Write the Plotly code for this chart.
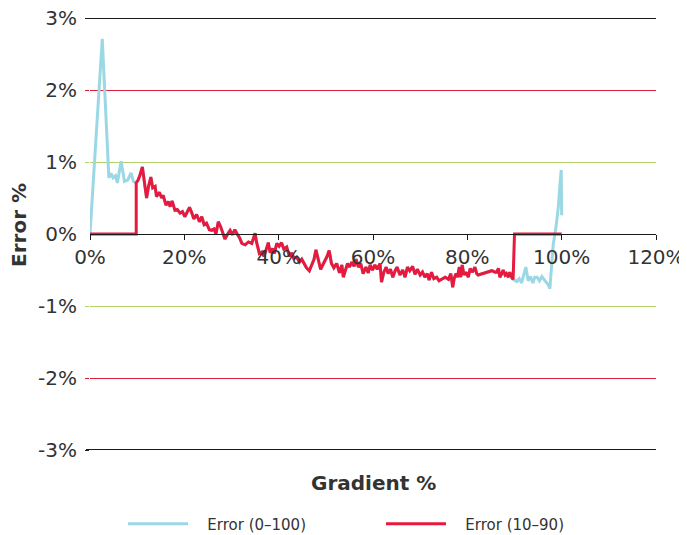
import plotly.graph_objects as go

# ---- data (gradient %, error %) ----
# shared middle section (10%..90%), drawn by both series
mid_gradient = [9.8, 10.2, 10.6, 11.1, 11.7, 12.0, 12.4, 12.9, 13.3, 13.8, 14.1, 14.7, 15.2, 15.5, 16.1, 16.6,
                17.0, 17.4, 18.0, 18.5, 19.1, 19.6, 20.1, 20.6, 21.1, 21.6, 22.0, 22.6, 23.2, 23.7, 24.2, 24.7,
                25.3, 25.8, 26.3, 26.7, 27.2, 27.7, 28.3, 28.6, 29.1, 29.7, 30.2, 30.7, 31.2, 31.7, 32.2, 32.9,
                33.6, 34.3, 35.0, 35.3, 35.9, 36.4, 36.9, 37.5, 37.8, 38.2, 38.7, 39.1, 39.6, 40.1, 40.6, 41.1,
                41.7, 42.3, 42.8, 43.2, 43.8, 44.4, 44.9, 45.4, 45.9, 46.5, 47.0, 47.5, 47.9, 48.4, 48.9, 49.5,
                50.2, 50.7, 51.2, 51.7, 52.3, 52.9, 53.4, 53.7, 54.1, 54.6, 55.0, 55.5, 56.0, 56.4, 56.9, 57.4,
                57.9, 58.5, 59.0, 59.4, 59.9, 60.4, 60.9, 61.5, 61.8, 62.3, 62.8, 63.2, 63.7, 64.2, 64.7, 65.1,
                65.7, 66.3, 66.8, 67.3, 67.8, 68.4, 68.9, 69.4, 70.0, 70.5, 71.0, 71.5, 71.9, 72.4, 72.9, 73.5,
                74.0, 74.8, 75.3, 76.0, 76.5, 76.9, 77.2, 77.6, 77.9, 78.3, 78.6, 78.9, 79.3, 79.7, 80.2, 80.6,
                81.1, 81.6, 82.0, 82.3, 83.4, 84.4, 85.2, 85.9, 86.2, 86.6, 86.9, 87.3, 87.6, 88.0, 88.3, 88.7,
                89.0, 89.4, 89.7]
mid_error = [0.71, 0.75, 0.82, 0.93, 0.64, 0.50, 0.66, 0.79, 0.64, 0.66, 0.52, 0.58, 0.50, 0.54, 0.40, 0.45,
             0.38, 0.46, 0.33, 0.34, 0.29, 0.31, 0.24, 0.31, 0.37, 0.29, 0.21, 0.27, 0.17, 0.24, 0.13, 0.15,
             0.06, 0.05, 0.07, 0.00, 0.17, 0.10, -0.03, -0.07, -0.01, 0.05, -0.01, 0.06, 0.00, -0.05, -0.13, -0.15,
             -0.11, -0.13, 0.01, -0.11, -0.27, -0.25, -0.31, -0.18, -0.12, -0.26, -0.20, -0.27, -0.13, -0.17, -0.12, -0.21,
             -0.18, -0.31, -0.26, -0.34, -0.32, -0.39, -0.35, -0.41, -0.47, -0.51, -0.43, -0.35, -0.22, -0.36, -0.49, -0.41,
             -0.32, -0.23, -0.41, -0.47, -0.41, -0.54, -0.43, -0.60, -0.50, -0.41, -0.46, -0.39, -0.45, -0.35, -0.46, -0.41,
             -0.55, -0.46, -0.54, -0.43, -0.50, -0.43, -0.49, -0.41, -0.67, -0.53, -0.46, -0.55, -0.49, -0.60, -0.51, -0.46,
             -0.57, -0.50, -0.60, -0.46, -0.51, -0.45, -0.56, -0.49, -0.57, -0.53, -0.60, -0.55, -0.64, -0.53, -0.62, -0.60,
             -0.65, -0.62, -0.60, -0.63, -0.55, -0.74, -0.62, -0.55, -0.60, -0.46, -0.60, -0.43, -0.57, -0.53, -0.60, -0.48,
             -0.53, -0.46, -0.55, -0.57, -0.55, -0.53, -0.51, -0.53, -0.53, -0.48, -0.60, -0.55, -0.50, -0.57, -0.55, -0.60,
             -0.53, -0.60, -0.63]

# Error (0-100): visible head and tail
head_gradient = [0.0, 2.6, 4.0, 4.45, 4.9, 5.4, 5.8, 6.6, 7.3, 8.0, 8.7, 9.2]
head_error = [0.0, 2.71, 0.78, 0.84, 0.78, 0.81, 0.71, 1.01, 0.73, 0.75, 0.85, 0.73]
tail_gradient = [90.5, 91.0, 91.5, 92.0, 92.4, 92.9, 93.4, 93.9, 94.3, 94.8, 95.3, 95.8, 96.2, 96.7, 97.2,
                 97.5, 97.9, 98.2, 98.8, 99.3, 99.6, 99.9, 100.0]
tail_error = [-0.66, -0.62, -0.68, -0.57, -0.46, -0.65, -0.59, -0.68, -0.60, -0.60, -0.65, -0.59, -0.62, -0.66, -0.71,
              -0.76, -0.46, -0.15, 0.10, 0.38, 0.66, 0.89, 0.26]

# Error (10-90): zero outside its range
pre_gradient = [0.0, 9.8]
pre_error = [0.0, 0.0]
post_gradient = [90.0, 100.0]
post_error = [0.0, 0.0]

x_ticks = [0, 20, 40, 60, 80, 100, 120]
x_tick_text = ["0%", "20%", "40%", "60%", "80%", "100%", "120%"]
y_ticks = [-3, -2, -1, 0, 1, 2, 3]
y_tick_text = ["-3%", "-2%", "-1%", "0%", "1%", "2%", "3%"]
grid_black = [-3, 3]
grid_red = [-2, 2]
grid_green = [-1, 1]

series_names = ["Error (0\u2013100)", "Error (10\u201390)"]
series_colors = ["#9bd8e5", "#e8193f"]
BLACK = "#1a1a1a"
RED_GRID = "#dc1e3c"
GREEN_GRID = "#b2d36b"

FONT = "Verdana, DejaVu Sans, sans-serif"
TXT = "#333333"

# the page body adds an 8px offset; margins compensate so the plot area
# spans x 90..656 and y 18..450 in the window
PLOT_W, PLOT_H = 566, 432
ML, MT = 82, 10
PAD = "\u00a0\u00a0\u00a0"  # gap between legend line and legend text

fig = go.Figure()
fig.add_trace(go.Scatter(x=head_gradient + mid_gradient + tail_gradient,
                         y=head_error + mid_error + tail_error,
                         mode="lines", name=PAD + series_names[0],
                         line=dict(color=series_colors[0], width=3)))
fig.add_trace(go.Scatter(x=pre_gradient + mid_gradient + post_gradient,
                         y=pre_error + mid_error + post_error,
                         mode="lines", name=PAD + series_names[1],
                         line=dict(color=series_colors[1], width=3)))


def grid_axis(vals, color):
    return dict(range=[-3, 3], overlaying="y", tickvals=vals, showticklabels=False,
                showgrid=True, gridcolor=color, gridwidth=1, zeroline=False, showline=False,
                ticks="outside", ticklen=4, tickcolor=color, automargin=False)


# black outer lines at +/-3% sit on the plot edges, where plotly drops grid lines
shapes = [
    dict(type="line", xref="paper", yref="paper", x0=-4 / PLOT_W, x1=1, y0=1 - 0.5 / PLOT_H, y1=1 - 0.5 / PLOT_H,
         line=dict(color=BLACK, width=1), layer="below"),
    dict(type="line", xref="paper", yref="paper", x0=-4 / PLOT_W, x1=1, y0=0.5 / PLOT_H, y1=0.5 / PLOT_H,
         line=dict(color=BLACK, width=1), layer="below"),
]

fig.update_layout(
    width=687, height=535,
    margin=dict(l=ML, r=687 - ML - PLOT_W, t=MT, b=535 - MT - PLOT_H, autoexpand=False),
    paper_bgcolor="white", plot_bgcolor="white",
    font=dict(family=FONT, color=TXT, size=20),
    shapes=shapes,
    xaxis=dict(range=[0, 120], tickvals=x_ticks, ticktext=x_tick_text,
               anchor="free", position=0.5, showgrid=False, zeroline=False,
               showline=True, linecolor=BLACK, linewidth=1,
               ticks="outside", ticklen=5, tickcolor=BLACK, automargin=False,
               ticklabeloverflow="allow",
               tickfont=dict(size=20, color=TXT, family=FONT)),
    yaxis=dict(range=[-3, 3], tickvals=y_ticks, ticktext=y_tick_text,
               showgrid=False, zeroline=False, showline=False, ticks="",
               ticklabelstandoff=12, automargin=False, ticklabeloverflow="allow",
               tickfont=dict(size=20, color=TXT, family=FONT)),
    yaxis2=grid_axis(grid_black, BLACK),
    yaxis3=grid_axis(grid_red, RED_GRID),
    yaxis4=grid_axis(grid_green, GREEN_GRID),
    showlegend=True,
    legend=dict(orientation="h", x=0.5 + 8 / PLOT_W, xanchor="center", y=(450 - 524) / PLOT_H, yanchor="middle",
                font=dict(size=15, color=TXT, family=FONT), itemwidth=60, entrywidth=183,
                bgcolor="rgba(0,0,0,0)"),
    annotations=[
        dict(text="<b>Gradient %</b>", xref="paper", yref="paper", x=0.5, y=(450 - 483) / PLOT_H,
             xanchor="center", yanchor="middle", showarrow=False,
             font=dict(size=20, color=TXT, family=FONT)),
        dict(text="<b>Error %</b>", xref="paper", yref="paper", x=-(90 - 19) / PLOT_W, y=0.5 + 9 / PLOT_H,
             xanchor="center", yanchor="middle", showarrow=False, textangle=-90,
             font=dict(size=20, color=TXT, family=FONT)),
    ],
)
# invisible anchor traces so the grid axes are drawn
for ax in ["y2", "y3", "y4"]:
    fig.add_trace(go.Scatter(x=[None], y=[None], yaxis=ax, showlegend=False, hoverinfo="skip"))

fig.write_html("out.html")
